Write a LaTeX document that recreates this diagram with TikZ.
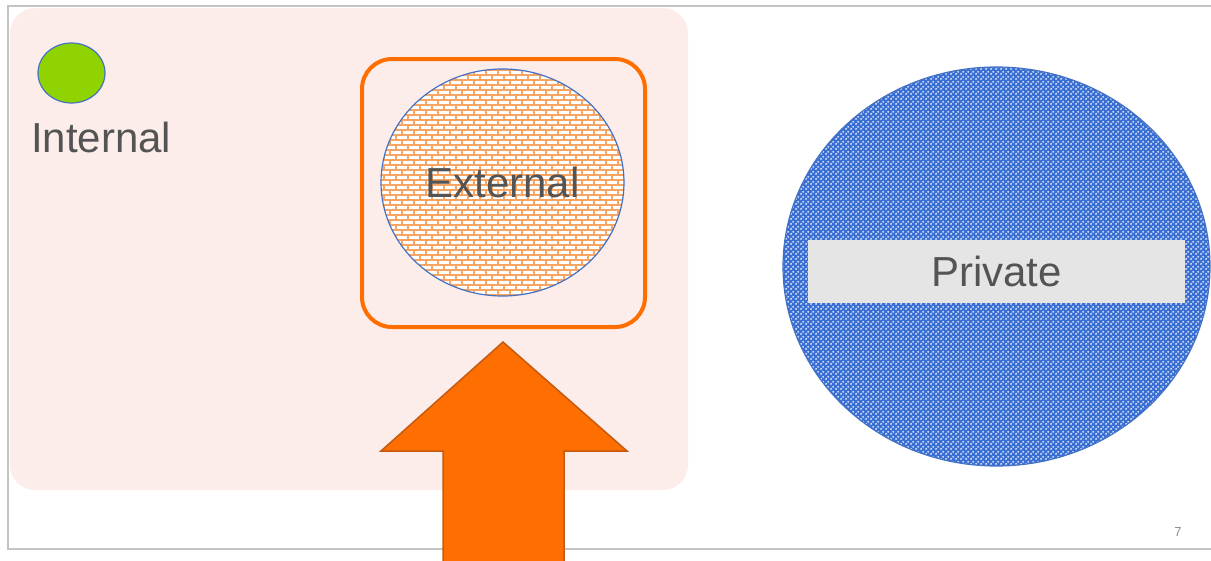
\documentclass[tikz,border=0pt]{standalone}
\usepackage{fontspec}
\setmainfont{Liberation Sans}
\usepackage{xcolor}
\usepackage{tikz}
\usetikzlibrary{shapes.geometric,patterns,positioning}
\definecolor{slideframe}{RGB}{195,195,195}
\definecolor{panelpink} {RGB}{252,237,234}
\definecolor{limegreen} {RGB}{143,212,0}
\definecolor{edgeblue}  {RGB}{68,114,196}
\definecolor{brickorange}{RGB}{248,165,100}
\definecolor{hotorange} {RGB}{255,110,0}
\definecolor{arrowedge} {RGB}{197,90,17}
\definecolor{dotblue}   {RGB}{58,112,212}
\definecolor{bandgray}  {RGB}{229,229,229}
\definecolor{textgray}  {RGB}{84,84,84}
\definecolor{numgray}   {RGB}{140,140,140}
% mortar lines of the brick fill
\pgfdeclarepatternformonly{extbricks}{\pgfpoint{-1pt}{-1pt}}{\pgfpoint{13pt}{11pt}}{\pgfpoint{12pt}{10pt}}{
  \pgfsetlinewidth{1.3pt}
  \pgfpathmoveto{\pgfpoint{0pt}{0pt}}\pgfpathlineto{\pgfpoint{12pt}{0pt}}
  \pgfpathmoveto{\pgfpoint{0pt}{5pt}}\pgfpathlineto{\pgfpoint{12pt}{5pt}}
  \pgfpathmoveto{\pgfpoint{0pt}{0pt}}\pgfpathlineto{\pgfpoint{0pt}{5pt}}
  \pgfpathmoveto{\pgfpoint{6pt}{5pt}}\pgfpathlineto{\pgfpoint{6pt}{10pt}}
  \pgfusepath{stroke}
}
% white holes of the dotted fill
\pgfdeclarepatternformonly{privdots}{\pgfpointorigin}{\pgfpoint{5pt}{5pt}}{\pgfpoint{5pt}{5pt}}{
  \pgfpathcircle{\pgfpoint{1.25pt}{1.25pt}}{1.15pt}
  \pgfpathcircle{\pgfpoint{3.75pt}{3.75pt}}{1.15pt}
  \pgfusepath{fill}
}
\tikzset{
  lbl/.style     ={font=\fontsize{42}{46}\selectfont, text=textgray, inner sep=0pt},
  blob/.style    ={ellipse, draw=edgeblue, line width=1.2pt, inner sep=0pt},
  extblob/.style ={blob, preaction={fill=white}, pattern=extbricks,
                   pattern color=brickorange},
  privblob/.style={blob, preaction={fill=dotblue}, pattern=privdots,
                   pattern color=white},
  hotbox/.style  ={draw=hotorange, line width=4pt, rounded corners=30pt},
  bigarrow/.style={fill=hotorange, draw=arrowedge, line width=1.5pt},
}

\begin{document}
\begin{tikzpicture}[x=1pt,y=-1pt]
  \useasboundingbox (0,0) rectangle (1211,560);
  \fill[white] (0,0) rectangle (1211,560);
  \fill[panelpink, rounded corners=25pt] (10,8) rectangle (688,490);
  \draw[slideframe, line width=1.5pt] (8,6) rectangle (1230,549);
  % left panel
  \node[blob, fill=limegreen, minimum width=67pt, minimum height=60pt] (intdot) at (71.5,73) {};
  \node[lbl, anchor=base west] (intlbl) at (31,152) {Internal};
  \draw[hotbox] (362,59) rectangle (645,327);
  \node[extblob, minimum width=243pt, minimum height=227pt] (extblob) at (502.5,182.5) {};
  \node[lbl] (extlbl) at (extblob) {External};
  \draw[bigarrow] (503,342) -- (627,451) -- (564,451) -- (564,575)
                  -- (443,575) -- (443,451) -- (381,451) -- cycle;
  % right side
  \node[privblob, minimum width=427pt, minimum height=399pt] (privblob) at (996.5,266.5) {};
  \node[lbl, fill=bandgray, minimum width=377pt, minimum height=63pt] (privlbl) at (996.5,271.5) {Private};
  \node[font=\fontsize{13}{15}\selectfont, text=numgray, inner sep=0pt] (pagenum) at (1178,532) {7};
\end{tikzpicture}
\end{document}
